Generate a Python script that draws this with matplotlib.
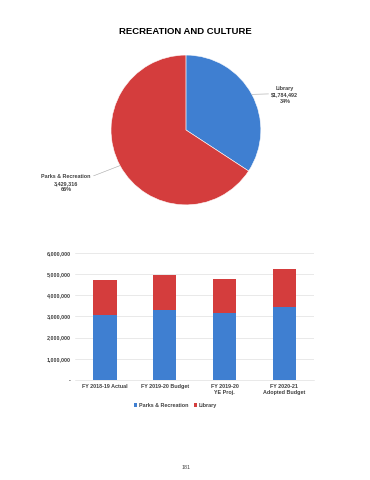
import numpy as np
import matplotlib
matplotlib.use('Agg')
import matplotlib.pyplot as plt

plt.rcParams['font.family'] = ['Liberation Sans', 'DejaVu Sans']

# pie data
pie_labels = ['Library', 'Parks & Recreation']
pie_values = [1784492, 3429316]
pie_texts = ['Library\n$1,784,492\n34%', 'Parks & Recreation\n3,429,316\n66%']

# bar data
years = ['FY 2018-19 Actual', 'FY 2019-20 Budget', 'FY 2019-20\nYE Proj.', 'FY 2020-21\nAdopted Budget']
parks = [3090000, 3300000, 3160000, 3429316]
library = [1610000, 1660000, 1620000, 1784492]
yticks = [0, 1000000, 2000000, 3000000, 4000000, 5000000, 6000000]

blue = '#3f7fd1'
red = '#d43d3d'

fig = plt.figure(figsize=(3.7, 4.8), dpi=100)
fig.text(0.5, 0.934, 'RECREATION AND CULTURE', ha='center', va='center',
         fontsize=6.8, fontweight='bold')

# pie
ax1 = fig.add_axes([0.30, 0.573, 0.405, 0.3125])
wedges, _ = ax1.pie(pie_values, colors=[blue, red], startangle=90, counterclock=False,
                    wedgeprops=dict(edgecolor='white', linewidth=0.4))
ax1.set_xlim(-1, 1)
ax1.set_ylim(-1, 1)
ax1.set_aspect('equal')
text_pos = [(1.32, 0.47), (-1.6, -0.71)]
rel = [(0.0, 0.55), (1.0, 0.85)]
for w, t, pos, rp in zip(wedges, pie_texts, text_pos, rel):
    ang = np.deg2rad((w.theta1 + w.theta2) / 2)
    x, y = np.cos(ang), np.sin(ang)
    ax1.annotate(t, xy=(x, y), xytext=pos, ha='center', va='center',
                 fontsize=3.9, fontweight='bold', color='#404040', linespacing=1.35,
                 arrowprops=dict(arrowstyle='-', color='#a6a6a6', lw=0.4,
                                 shrinkA=0, shrinkB=0, relpos=rp),
                 annotation_clip=False)

# stacked bars
ax2 = fig.add_axes([0.203, 0.2083, 0.646, 0.265])
xpos = np.arange(len(years))
ax2.bar(xpos, parks, width=0.39, color=blue, label='Parks & Recreation', zorder=3)
ax2.bar(xpos, library, width=0.39, bottom=parks, color=red, label='Library', zorder=3)
ax2.set_xlim(-0.5, len(years) - 0.5)
ax2.set_ylim(0, 6000000)
ax2.set_yticks(yticks)
ax2.set_yticklabels(['-'] + ['{:,}'.format(v) for v in yticks[1:]])
ax2.set_xticks(xpos)
ax2.set_xticklabels(years)
ax2.grid(axis='y', color='#d9d9d9', lw=0.4, zorder=0)
for s in ['top', 'right', 'left']:
    ax2.spines[s].set_visible(False)
ax2.spines['bottom'].set_color('#d9d9d9')
ax2.spines['bottom'].set_linewidth(0.4)
ax2.tick_params(length=0, labelsize=3.9, colors='#404040', pad=3)
for lab in ax2.get_xticklabels() + ax2.get_yticklabels():
    lab.set_fontweight('bold')
ax2.legend(loc='upper center', bbox_to_anchor=(0.42, -0.14), ncol=2, frameon=False,
           prop=dict(size=3.9, weight='bold'), handlelength=0.6, handleheight=0.6,
           columnspacing=1.0, handletextpad=0.3, labelcolor='#404040')

fig.text(0.503, 0.027, '181', ha='center', va='center', fontsize=3.8, color='#404040')

fig.savefig('out.png', dpi=100)
